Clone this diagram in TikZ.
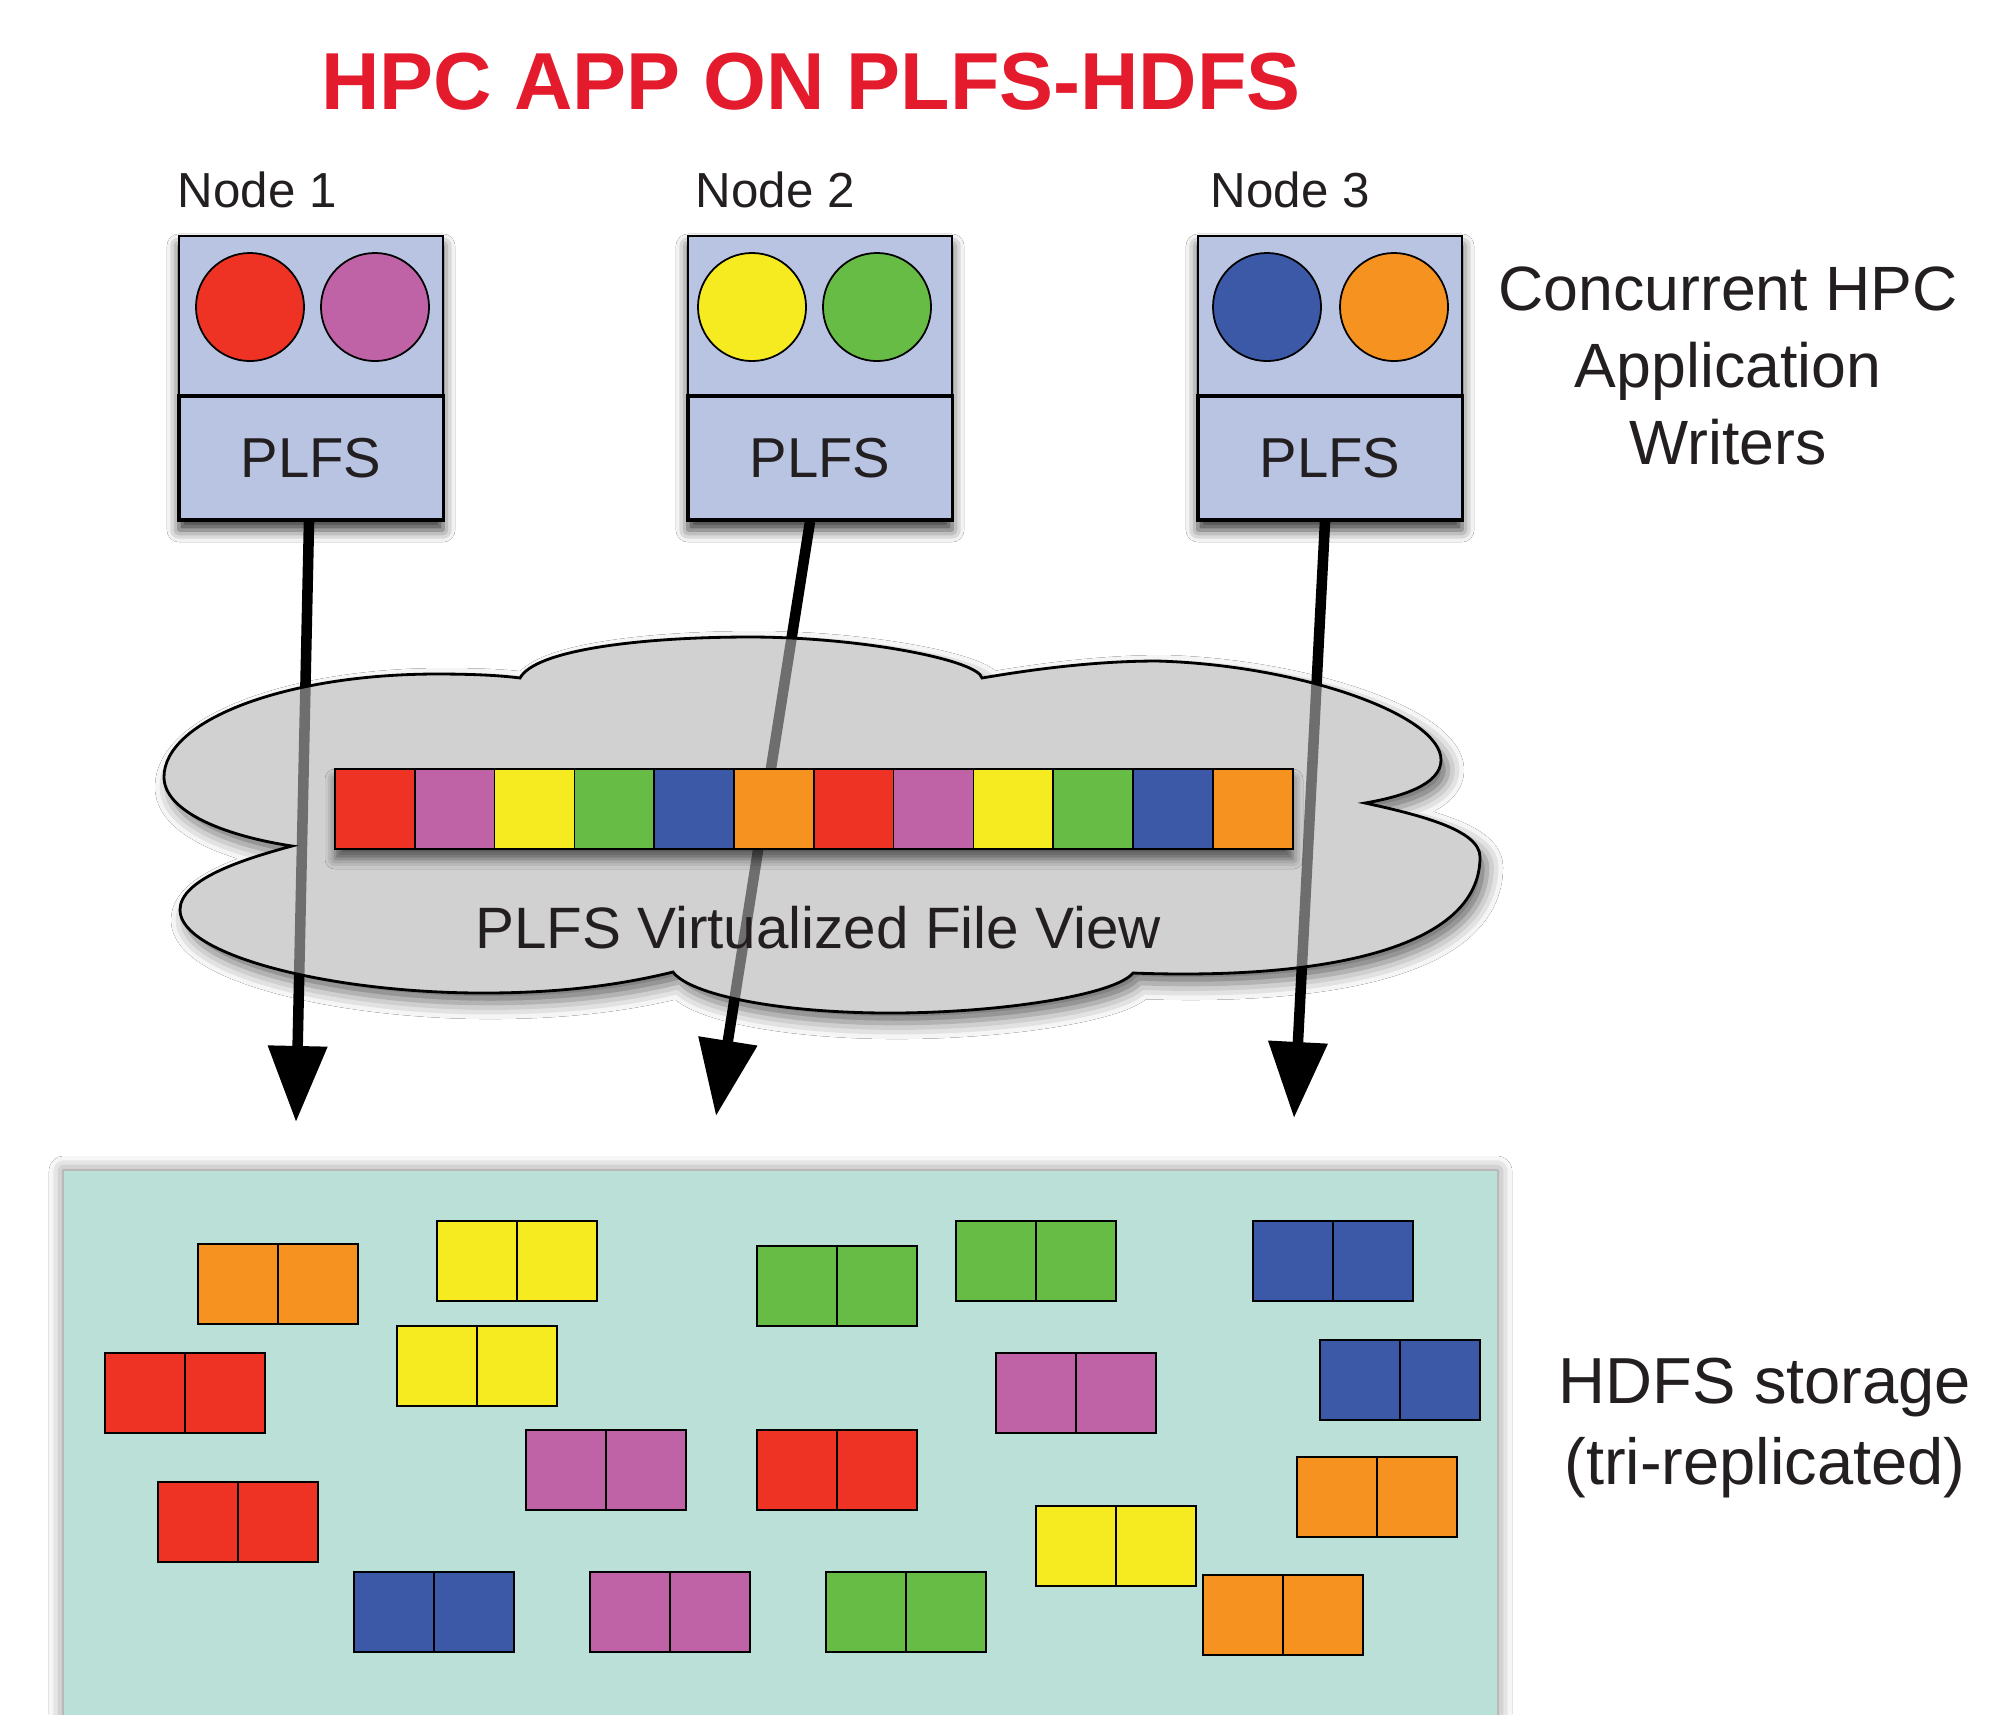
\documentclass[tikz,border=0pt]{standalone}
\usepackage{fontspec}
\setmainfont{Liberation Sans}
\usetikzlibrary{arrows.meta,shadows.blur,calc}
\definecolor{cRed}{RGB}{238,50,36}
\definecolor{cMag}{RGB}{191,98,166}
\definecolor{cYel}{RGB}{245,235,32}
\definecolor{cGrn}{RGB}{103,188,69}
\definecolor{cBlu}{RGB}{59,89,167}
\definecolor{cOra}{RGB}{246,146,32}
\definecolor{boxblue}{RGB}{185,195,226}
\definecolor{store}{RGB}{186,224,215}
\definecolor{titlered}{RGB}{227,27,45}
\definecolor{ink}{RGB}{35,31,32}
\definecolor{cloudgray}{RGB}{181,181,181}
\tikzset{
  hostbox/.style={draw=black, line width=0.4pt, fill=boxblue, minimum width=2.64cm, minimum height=2.84cm, inner sep=0pt,
    blur shadow={shadow xshift=0cm, shadow yshift=-0.1cm, shadow blur radius=0.12cm, shadow opacity=80}},
  hostfs/.style={draw=black, line width=0.9pt, fill=boxblue, minimum width=2.64cm, minimum height=1.24cm, inner sep=0pt, text=ink, font=\fontsize{16}{19}\selectfont},
  proc/.style={circle, draw=black, line width=0.5pt, minimum size=1.08cm, inner sep=0pt},
  flow/.style={line width=3pt, draw opacity=1, fill opacity=1, -{Triangle[width=0.57cm,length=0.76cm,fill=black]}},
  cell/.style={draw=black, line width=0.5pt, fill opacity=1},
  lbl/.style={text=ink, inner sep=0pt, anchor=base},
}
\newcommand\hblock[3]{%
  \draw[cell,fill=#3] (#1,#2) rectangle ++(80,80);
  \draw[cell,fill=#3] (#1+80,#2) rectangle ++(80,80);}
\def\cloudpath{(292,846) .. controls (220,835) and (164,810) .. (164,777)
 .. controls (164,720) and (286,674) .. (437,674)
 .. controls (480,674) and (505,676) .. (520,678)
 .. controls (535,650) and (640,637) .. (750,637)
 .. controls (860,637) and (978,660) .. (982,678)
 .. controls (1040,668) and (1100,661) .. (1157,661)
 .. controls (1300,665) and (1441,715) .. (1441,760)
 .. controls (1441,785) and (1400,797) .. (1365,803)
 .. controls (1420,815) and (1480,830) .. (1480,857)
 .. controls (1480,950) and (1320,980) .. (1133,973)
 .. controls (1115,995) and (1000,1013) .. (890,1013)
 .. controls (780,1013) and (690,995) .. (673,972)
 .. controls (620,985) and (560,993) .. (483,993)
 .. controls (330,993) and (180,955) .. (180,910)
 .. controls (180,880) and (240,860) .. (292,846) -- cycle}
\begin{document}
\begin{tikzpicture}[x=0.01cm,y=-0.01cm]
\useasboundingbox (0,0) rectangle (1998,1714);
\fill[white] (0,0) rectangle (1998,1714);

% title
\node[lbl, text=titlered, font=\fontsize{23}{27}\selectfont\bfseries] (title) at (811,109) {HPC APP ON PLFS-HDFS};

% node labels
\node[lbl, anchor=base west, font=\fontsize{14}{17}\selectfont] (lab1) at (177,207) {Node 1};
\node[lbl, anchor=base west, font=\fontsize{14}{17}\selectfont] (lab2) at (695,207) {Node 2};
\node[lbl, anchor=base west, font=\fontsize{14}{17}\selectfont] (lab3) at (1210,207) {Node 3};

% compute nodes
\node[hostbox] (h1) at (311,378) {};
\node[hostbox] (h2) at (820,378) {};
\node[hostbox] (h3) at (1330,378) {};
\node[hostfs] (p1) at (311,458) {PLFS};
\node[hostfs] (p2) at (820,458) {PLFS};
\node[hostfs] (p3) at (1330,458) {PLFS};
\node[proc, fill=cRed] (c1a) at (250,307) {};
\node[proc, fill=cMag] (c1b) at (375,307) {};
\node[proc, fill=cYel] (c2a) at (752,307) {};
\node[proc, fill=cGrn] (c2b) at (877,307) {};
\node[proc, fill=cBlu] (c3a) at (1267,307) {};
\node[proc, fill=cOra] (c3b) at (1394,307) {};

% side label
\node[lbl, font=\fontsize{17.8}{21.8}\selectfont] (conc1) at (1728,310) {Concurrent HPC};
\node[lbl, font=\fontsize{17.8}{21.8}\selectfont] (conc2) at (1728,387) {Application};
\node[lbl, font=\fontsize{17.8}{21.8}\selectfont] (conc3) at (1728,464) {Writers};

% cloud shadow + white base
\path[fill=white, blur shadow={shadow xshift=0.07cm, shadow yshift=-0.1cm, shadow blur radius=0.16cm, shadow opacity=60}] \cloudpath;

% arrows
\coordinate (t1) at (296,1122);
\coordinate (t2) at (716,1116);
\coordinate (t3) at (1294,1118);
\begin{scope}[fill opacity=1, draw opacity=1]
\draw[flow] ($(p1.south)+(-2,0)$) -- (t1);
\draw[flow] ($(p2.south)+(-10,0)$) -- (t2);
\draw[flow] ($(p3.south)+(-5,0)$) -- (t3);
\end{scope}

% cloud
\draw[line width=0.8pt, fill=cloudgray, fill opacity=0.61] \cloudpath;

% strip
\path[fill=white, blur shadow={shadow xshift=0cm, shadow yshift=-0.1cm, shadow blur radius=0.1cm, shadow opacity=60}] (335,769) rectangle (1293,849);
\foreach \c [count=\i from 0] in {cRed,cMag,cYel,cGrn,cBlu,cOra,cRed,cMag,cYel,cGrn,cBlu,cOra}
  \draw[cell,fill=\c] (335+79.8*\i,769) rectangle ++(79.8,80);
\draw[line width=0.8pt] (335,769) rectangle (1293,849);
\node[lbl, font=\fontsize{16.6}{20}\selectfont] (view) at (818,948) {PLFS Virtualized File View};

% storage
\path[fill=store, blur shadow={shadow xshift=0cm, shadow yshift=0cm, shadow blur radius=0.15cm, shadow opacity=55}] (64,1171) rectangle (1497,1740);
\hblock{198}{1244}{cOra}
\hblock{437}{1221}{cYel}
\hblock{105}{1353}{cRed}
\hblock{397}{1326}{cYel}
\hblock{526}{1430}{cMag}
\hblock{158}{1482}{cRed}
\hblock{354}{1572}{cBlu}
\hblock{590}{1572}{cMag}
\hblock{757}{1246}{cGrn}
\hblock{757}{1430}{cRed}
\hblock{956}{1221}{cGrn}
\hblock{1253}{1221}{cBlu}
\hblock{996}{1353}{cMag}
\hblock{1320}{1340}{cBlu}
\hblock{1297}{1457}{cOra}
\hblock{1036}{1506}{cYel}
\hblock{826}{1572}{cGrn}
\hblock{1203}{1575}{cOra}

\node[lbl, font=\fontsize{18.5}{22}\selectfont] (hdfs1) at (1765,1403) {HDFS storage};
\node[lbl, font=\fontsize{18.5}{22}\selectfont] (hdfs2) at (1765,1484) {(tri-replicated)};
\end{tikzpicture}
\end{document}
